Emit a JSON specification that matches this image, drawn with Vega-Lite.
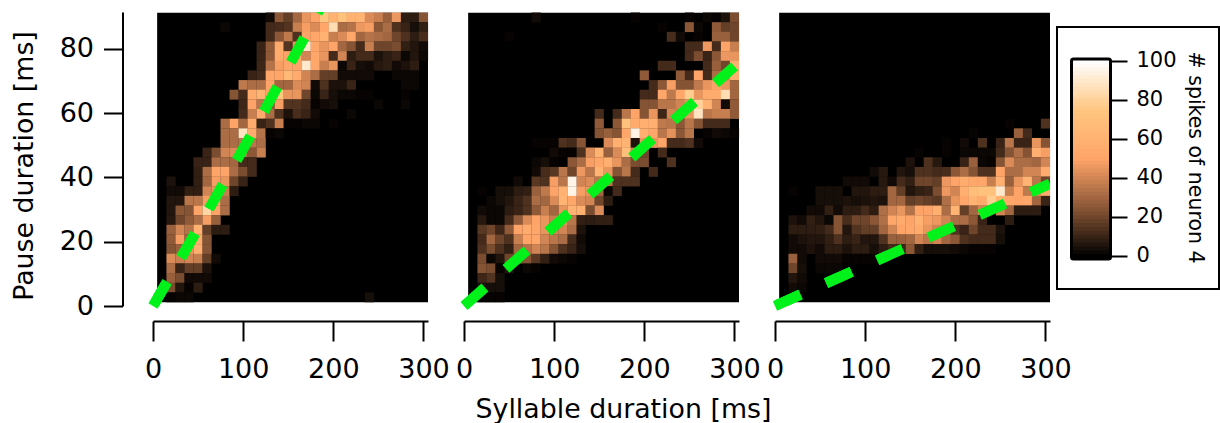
{"$schema":"https://vega.github.io/schema/vega-lite/v6.json","background":"white","padding":{"left":11,"top":12,"right":0,"bottom":0},"config":{"view":{"stroke":null},"font":"DejaVu Sans","axis":{"grid":false,"domainColor":"black","tickColor":"black","labelColor":"black","titleColor":"black","domainWidth":2,"tickWidth":2,"labelFont":"DejaVu Sans","titleFont":"DejaVu Sans","titleFontWeight":"normal","labelOverlap":false,"labelFlush":false}},
"datasets":{
"g1":[{"x":0,"y":0},{"x":45.9,"y":22.2},{"x":107.8,"y":52.7},{"x":167.8,"y":83.4},{"x":190,"y":95}],
"g2":[{"x":0,"y":0},{"x":150,"y":37.2},{"x":300,"y":74.5}],
"g3":[{"x":0,"y":0},{"x":125.9,"y":15.8},{"x":305,"y":38}],
"bar":[{"v":0},{"v":2},{"v":4},{"v":6},{"v":8},{"v":10},{"v":12},{"v":14},{"v":16},{"v":18},{"v":20},{"v":22},{"v":24},{"v":26},{"v":28},{"v":30},{"v":32},{"v":34},{"v":36},{"v":38},{"v":40},{"v":42},{"v":44},{"v":46},{"v":48},{"v":50},{"v":52},{"v":54},{"v":56},{"v":58},{"v":60},{"v":62},{"v":64},{"v":66},{"v":68},{"v":70},{"v":72},{"v":74},{"v":76},{"v":78},{"v":80},{"v":82},{"v":84},{"v":86},{"v":88},{"v":90},{"v":92},{"v":94},{"v":96},{"v":98},{"v":100}],
"p1":[
{"x":130,"y":89.7,"v":3},{"x":140,"y":89.7,"v":25},{"x":150,"y":89.7,"v":18},{"x":160,"y":89.7,"v":30},{"x":170,"y":89.7,"v":45},{"x":180,"y":89.7,"v":50},{"x":190,"y":89.7,"v":75},{"x":200,"y":89.7,"v":60},{"x":210,"y":89.7,"v":72},{"x":220,"y":89.7,"v":60},{"x":230,"y":89.7,"v":62},{"x":240,"y":89.7,"v":42},{"x":250,"y":89.7,"v":38},{"x":260,"y":89.7,"v":28},{"x":270,"y":89.7,"v":46},{"x":280,"y":89.7,"v":8},{"x":290,"y":89.7,"v":8},{"x":300,"y":89.7,"v":24},
{"x":80,"y":86.7,"v":2},{"x":130,"y":86.7,"v":12},{"x":140,"y":86.7,"v":13},{"x":150,"y":86.7,"v":15},{"x":160,"y":86.7,"v":38},{"x":170,"y":86.7,"v":48},{"x":180,"y":86.7,"v":42},{"x":190,"y":86.7,"v":52},{"x":200,"y":86.7,"v":85},{"x":210,"y":86.7,"v":32},{"x":220,"y":86.7,"v":34},{"x":230,"y":86.7,"v":46},{"x":240,"y":86.7,"v":48},{"x":250,"y":86.7,"v":25},{"x":260,"y":86.7,"v":32},{"x":270,"y":86.7,"v":14},{"x":280,"y":86.7,"v":10},{"x":290,"y":86.7,"v":4},{"x":300,"y":86.7,"v":9},
{"x":130,"y":83.7,"v":12},{"x":140,"y":83.7,"v":25},{"x":150,"y":83.7,"v":36},{"x":160,"y":83.7,"v":14},{"x":170,"y":83.7,"v":50},{"x":180,"y":83.7,"v":52},{"x":190,"y":83.7,"v":60},{"x":200,"y":83.7,"v":38},{"x":210,"y":83.7,"v":42},{"x":220,"y":83.7,"v":52},{"x":230,"y":83.7,"v":30},{"x":240,"y":83.7,"v":34},{"x":250,"y":83.7,"v":32},{"x":260,"y":83.7,"v":30},{"x":270,"y":83.7,"v":20},{"x":280,"y":83.7,"v":14},{"x":290,"y":83.7,"v":8},{"x":300,"y":83.7,"v":13},
{"x":120,"y":80.7,"v":10},{"x":130,"y":80.7,"v":26},{"x":140,"y":80.7,"v":55},{"x":150,"y":80.7,"v":15},{"x":160,"y":80.7,"v":45},{"x":170,"y":80.7,"v":90},{"x":180,"y":80.7,"v":52},{"x":190,"y":80.7,"v":45},{"x":200,"y":80.7,"v":50},{"x":210,"y":80.7,"v":30},{"x":220,"y":80.7,"v":24},{"x":230,"y":80.7,"v":12},{"x":240,"y":80.7,"v":38},{"x":250,"y":80.7,"v":20},{"x":260,"y":80.7,"v":20},{"x":270,"y":80.7,"v":22},{"x":280,"y":80.7,"v":9},{"x":290,"y":80.7,"v":6},{"x":300,"y":80.7,"v":3},
{"x":120,"y":77.7,"v":10},{"x":130,"y":77.7,"v":26},{"x":140,"y":77.7,"v":55},{"x":150,"y":77.7,"v":50},{"x":160,"y":77.7,"v":52},{"x":170,"y":77.7,"v":40},{"x":180,"y":77.7,"v":52},{"x":190,"y":77.7,"v":45},{"x":200,"y":77.7,"v":12},{"x":210,"y":77.7,"v":40},{"x":220,"y":77.7,"v":8},{"x":230,"y":77.7,"v":12},{"x":240,"y":77.7,"v":12},{"x":250,"y":77.7,"v":5},{"x":260,"y":77.7,"v":8},{"x":270,"y":77.7,"v":10},{"x":280,"y":77.7,"v":2},{"x":290,"y":77.7,"v":6},{"x":300,"y":77.7,"v":2},
{"x":120,"y":74.7,"v":11},{"x":130,"y":74.7,"v":34},{"x":140,"y":74.7,"v":48},{"x":150,"y":74.7,"v":52},{"x":160,"y":74.7,"v":50},{"x":170,"y":74.7,"v":90},{"x":180,"y":74.7,"v":52},{"x":190,"y":74.7,"v":38},{"x":200,"y":74.7,"v":45},{"x":210,"y":74.7,"v":2},{"x":220,"y":74.7,"v":10},{"x":230,"y":74.7,"v":4},{"x":240,"y":74.7,"v":3},{"x":250,"y":74.7,"v":7},{"x":260,"y":74.7,"v":8},{"x":270,"y":74.7,"v":3},{"x":280,"y":74.7,"v":5},{"x":290,"y":74.7,"v":8},
{"x":110,"y":71.7,"v":10},{"x":120,"y":71.7,"v":12},{"x":130,"y":71.7,"v":52},{"x":140,"y":71.7,"v":52},{"x":150,"y":71.7,"v":65},{"x":160,"y":71.7,"v":55},{"x":170,"y":71.7,"v":40},{"x":180,"y":71.7,"v":32},{"x":190,"y":71.7,"v":18},{"x":200,"y":71.7,"v":18},{"x":210,"y":71.7,"v":3},{"x":220,"y":71.7,"v":3},{"x":230,"y":71.7,"v":3},{"x":240,"y":71.7,"v":3},{"x":270,"y":71.7,"v":2},{"x":280,"y":71.7,"v":2},{"x":290,"y":71.7,"v":2},
{"x":100,"y":68.7,"v":36},{"x":110,"y":68.7,"v":32},{"x":120,"y":68.7,"v":32},{"x":130,"y":68.7,"v":50},{"x":140,"y":68.7,"v":30},{"x":150,"y":68.7,"v":30},{"x":160,"y":68.7,"v":42},{"x":170,"y":68.7,"v":40},{"x":180,"y":68.7,"v":3},{"x":190,"y":68.7,"v":14},{"x":200,"y":68.7,"v":5},{"x":210,"y":68.7,"v":5},{"x":220,"y":68.7,"v":10},{"x":280,"y":68.7,"v":2},{"x":290,"y":68.7,"v":2},
{"x":90,"y":65.7,"v":24},{"x":100,"y":65.7,"v":12},{"x":110,"y":65.7,"v":55},{"x":120,"y":65.7,"v":62},{"x":130,"y":65.7,"v":50},{"x":140,"y":65.7,"v":75},{"x":150,"y":65.7,"v":45},{"x":160,"y":65.7,"v":45},{"x":170,"y":65.7,"v":20},{"x":180,"y":65.7,"v":2},{"x":190,"y":65.7,"v":10},{"x":200,"y":65.7,"v":4},{"x":210,"y":65.7,"v":2},{"x":220,"y":65.7,"v":2},{"x":230,"y":65.7,"v":1},{"x":240,"y":65.7,"v":1},{"x":280,"y":65.7,"v":1},
{"x":100,"y":62.7,"v":11},{"x":110,"y":62.7,"v":50},{"x":120,"y":62.7,"v":35},{"x":130,"y":62.7,"v":25},{"x":140,"y":62.7,"v":48},{"x":150,"y":62.7,"v":15},{"x":160,"y":62.7,"v":15},{"x":170,"y":62.7,"v":12},{"x":180,"y":62.7,"v":1},{"x":190,"y":62.7,"v":3},{"x":200,"y":62.7,"v":4},{"x":250,"y":62.7,"v":2},{"x":280,"y":62.7,"v":2},
{"x":100,"y":59.7,"v":12},{"x":110,"y":59.7,"v":38},{"x":120,"y":59.7,"v":55},{"x":130,"y":59.7,"v":32},{"x":140,"y":59.7,"v":14},{"x":150,"y":59.7,"v":5},{"x":160,"y":59.7,"v":13},{"x":170,"y":59.7,"v":10},{"x":180,"y":59.7,"v":3},{"x":220,"y":59.7,"v":2},
{"x":80,"y":56.7,"v":32},{"x":90,"y":56.7,"v":50},{"x":100,"y":56.7,"v":30},{"x":110,"y":56.7,"v":55},{"x":120,"y":56.7,"v":10},{"x":130,"y":56.7,"v":14},{"x":140,"y":56.7,"v":38},{"x":150,"y":56.7,"v":1},{"x":160,"y":56.7,"v":1},{"x":170,"y":56.7,"v":2},{"x":180,"y":56.7,"v":2},{"x":200,"y":56.7,"v":1},
{"x":80,"y":53.7,"v":32},{"x":90,"y":53.7,"v":32},{"x":100,"y":53.7,"v":88},{"x":110,"y":53.7,"v":55},{"x":120,"y":53.7,"v":34},{"x":130,"y":53.7,"v":1},{"x":140,"y":53.7,"v":2},
{"x":80,"y":50.7,"v":32},{"x":90,"y":50.7,"v":32},{"x":100,"y":50.7,"v":35},{"x":110,"y":50.7,"v":35},{"x":120,"y":50.7,"v":32},
{"x":60,"y":47.7,"v":10},{"x":70,"y":47.7,"v":22},{"x":80,"y":47.7,"v":40},{"x":90,"y":47.7,"v":42},{"x":100,"y":47.7,"v":35},{"x":110,"y":47.7,"v":25},{"x":120,"y":47.7,"v":38},
{"x":50,"y":44.7,"v":10},{"x":60,"y":44.7,"v":10},{"x":70,"y":44.7,"v":32},{"x":80,"y":44.7,"v":32},{"x":90,"y":44.7,"v":30},{"x":100,"y":44.7,"v":12},{"x":110,"y":44.7,"v":12},
{"x":50,"y":41.7,"v":9},{"x":60,"y":41.7,"v":32},{"x":70,"y":41.7,"v":50},{"x":80,"y":41.7,"v":50},{"x":90,"y":41.7,"v":32},{"x":100,"y":41.7,"v":22},{"x":110,"y":41.7,"v":12},
{"x":20,"y":38.7,"v":5},{"x":50,"y":38.7,"v":9},{"x":60,"y":38.7,"v":30},{"x":70,"y":38.7,"v":48},{"x":80,"y":38.7,"v":45},{"x":90,"y":38.7,"v":20},{"x":100,"y":38.7,"v":10},
{"x":20,"y":35.7,"v":3},{"x":30,"y":35.7,"v":3},{"x":40,"y":35.7,"v":9},{"x":50,"y":35.7,"v":9},{"x":60,"y":35.7,"v":40},{"x":70,"y":35.7,"v":45},{"x":80,"y":35.7,"v":38},{"x":90,"y":35.7,"v":8},
{"x":20,"y":32.7,"v":6},{"x":30,"y":32.7,"v":6},{"x":40,"y":32.7,"v":35},{"x":50,"y":32.7,"v":35},{"x":60,"y":32.7,"v":48},{"x":70,"y":32.7,"v":52},{"x":80,"y":32.7,"v":32},
{"x":20,"y":29.7,"v":6},{"x":30,"y":29.7,"v":25},{"x":40,"y":29.7,"v":24},{"x":50,"y":29.7,"v":50},{"x":60,"y":29.7,"v":82},{"x":70,"y":29.7,"v":50},{"x":80,"y":29.7,"v":32},
{"x":20,"y":26.7,"v":7},{"x":30,"y":26.7,"v":20},{"x":40,"y":26.7,"v":26},{"x":50,"y":26.7,"v":32},{"x":60,"y":26.7,"v":48},{"x":70,"y":26.7,"v":28},
{"x":20,"y":23.7,"v":28},{"x":30,"y":23.7,"v":40},{"x":40,"y":23.7,"v":34},{"x":50,"y":23.7,"v":60},{"x":60,"y":23.7,"v":18},{"x":70,"y":23.7,"v":8},{"x":80,"y":23.7,"v":8},
{"x":20,"y":20.7,"v":26},{"x":30,"y":20.7,"v":48},{"x":40,"y":20.7,"v":30},{"x":50,"y":20.7,"v":55},{"x":60,"y":20.7,"v":24},
{"x":20,"y":17.7,"v":24},{"x":30,"y":17.7,"v":28},{"x":40,"y":17.7,"v":45},{"x":50,"y":17.7,"v":58},{"x":60,"y":17.7,"v":24},
{"x":20,"y":14.7,"v":42},{"x":30,"y":14.7,"v":38},{"x":40,"y":14.7,"v":40},{"x":50,"y":14.7,"v":38},{"x":60,"y":14.7,"v":18},{"x":70,"y":14.7,"v":3},
{"x":20,"y":11.7,"v":32},{"x":30,"y":11.7,"v":10},{"x":40,"y":11.7,"v":18},{"x":50,"y":11.7,"v":18},{"x":60,"y":11.7,"v":5},
{"x":20,"y":8.7,"v":28},{"x":30,"y":8.7,"v":22},{"x":40,"y":8.7,"v":3},{"x":50,"y":8.7,"v":3},{"x":60,"y":8.7,"v":3},
{"x":20,"y":5.7,"v":22},{"x":30,"y":5.7,"v":6},{"x":40,"y":5.7,"v":1},{"x":50,"y":5.7,"v":8},
{"x":20,"y":2.7,"v":1},{"x":30,"y":2.7,"v":2},{"x":40,"y":2.7,"v":2},{"x":240,"y":2.7,"v":4}],
"p2":[
{"x":80,"y":89.7,"v":3},{"x":190,"y":89.7,"v":1},{"x":250,"y":89.7,"v":1},{"x":270,"y":89.7,"v":2},{"x":280,"y":89.7,"v":1},{"x":290,"y":89.7,"v":5},{"x":300,"y":89.7,"v":22},
{"x":220,"y":86.7,"v":1},{"x":250,"y":86.7,"v":25},{"x":260,"y":86.7,"v":2},{"x":280,"y":86.7,"v":26},{"x":290,"y":86.7,"v":18},{"x":300,"y":86.7,"v":20},
{"x":50,"y":83.7,"v":1},{"x":230,"y":83.7,"v":13},{"x":240,"y":83.7,"v":3},{"x":260,"y":83.7,"v":1},{"x":280,"y":83.7,"v":28},{"x":290,"y":83.7,"v":28},{"x":300,"y":83.7,"v":20},
{"x":250,"y":80.7,"v":12},{"x":260,"y":80.7,"v":12},{"x":270,"y":80.7,"v":46},{"x":280,"y":80.7,"v":12},{"x":290,"y":80.7,"v":50},{"x":300,"y":80.7,"v":38},
{"x":250,"y":77.7,"v":12},{"x":260,"y":77.7,"v":22},{"x":270,"y":77.7,"v":10},{"x":280,"y":77.7,"v":25},{"x":290,"y":77.7,"v":46},{"x":300,"y":77.7,"v":45},
{"x":220,"y":74.7,"v":12},{"x":230,"y":74.7,"v":12},{"x":270,"y":74.7,"v":12},{"x":280,"y":74.7,"v":28},{"x":290,"y":74.7,"v":20},{"x":300,"y":74.7,"v":58},
{"x":200,"y":71.7,"v":26},{"x":240,"y":71.7,"v":26},{"x":250,"y":71.7,"v":12},{"x":260,"y":71.7,"v":50},{"x":270,"y":71.7,"v":12},{"x":280,"y":71.7,"v":32},{"x":290,"y":71.7,"v":40},{"x":300,"y":71.7,"v":58},
{"x":210,"y":68.7,"v":12},{"x":220,"y":68.7,"v":25},{"x":230,"y":68.7,"v":48},{"x":240,"y":68.7,"v":24},{"x":250,"y":68.7,"v":24},{"x":260,"y":68.7,"v":36},{"x":270,"y":68.7,"v":45},{"x":280,"y":68.7,"v":50},{"x":290,"y":68.7,"v":45},{"x":300,"y":68.7,"v":30},
{"x":200,"y":65.7,"v":12},{"x":210,"y":65.7,"v":12},{"x":220,"y":65.7,"v":52},{"x":230,"y":65.7,"v":36},{"x":240,"y":65.7,"v":52},{"x":250,"y":65.7,"v":78},{"x":260,"y":65.7,"v":45},{"x":270,"y":65.7,"v":55},{"x":280,"y":65.7,"v":55},{"x":290,"y":65.7,"v":85},{"x":300,"y":65.7,"v":30},
{"x":200,"y":62.7,"v":24},{"x":210,"y":62.7,"v":24},{"x":220,"y":62.7,"v":35},{"x":230,"y":62.7,"v":35},{"x":240,"y":62.7,"v":40},{"x":250,"y":62.7,"v":45},{"x":260,"y":62.7,"v":80},{"x":270,"y":62.7,"v":60},{"x":280,"y":62.7,"v":40},{"x":290,"y":62.7,"v":3},{"x":300,"y":62.7,"v":26},
{"x":150,"y":59.7,"v":12},{"x":170,"y":59.7,"v":12},{"x":180,"y":59.7,"v":35},{"x":190,"y":59.7,"v":50},{"x":200,"y":59.7,"v":24},{"x":210,"y":59.7,"v":45},{"x":220,"y":59.7,"v":11},{"x":230,"y":59.7,"v":40},{"x":240,"y":59.7,"v":35},{"x":250,"y":59.7,"v":45},{"x":260,"y":59.7,"v":88},{"x":270,"y":59.7,"v":35},{"x":280,"y":59.7,"v":38},{"x":290,"y":59.7,"v":38},{"x":300,"y":59.7,"v":26},
{"x":150,"y":56.7,"v":26},{"x":170,"y":56.7,"v":25},{"x":180,"y":56.7,"v":72},{"x":190,"y":56.7,"v":55},{"x":200,"y":56.7,"v":58},{"x":210,"y":56.7,"v":58},{"x":220,"y":56.7,"v":36},{"x":230,"y":56.7,"v":35},{"x":240,"y":56.7,"v":25},{"x":250,"y":56.7,"v":35},{"x":260,"y":56.7,"v":24},{"x":270,"y":56.7,"v":12},{"x":280,"y":56.7,"v":12},{"x":290,"y":56.7,"v":12},
{"x":150,"y":53.7,"v":24},{"x":160,"y":53.7,"v":28},{"x":170,"y":53.7,"v":24},{"x":180,"y":53.7,"v":52},{"x":190,"y":53.7,"v":95},{"x":200,"y":53.7,"v":58},{"x":210,"y":53.7,"v":52},{"x":220,"y":53.7,"v":35},{"x":230,"y":53.7,"v":44},{"x":240,"y":53.7,"v":25},{"x":250,"y":53.7,"v":35},{"x":270,"y":53.7,"v":1},{"x":280,"y":53.7,"v":3},{"x":290,"y":53.7,"v":2},{"x":300,"y":53.7,"v":1},
{"x":80,"y":50.7,"v":1},{"x":90,"y":50.7,"v":1},{"x":100,"y":50.7,"v":1},{"x":110,"y":50.7,"v":14},{"x":120,"y":50.7,"v":12},{"x":130,"y":50.7,"v":24},{"x":160,"y":50.7,"v":42},{"x":170,"y":50.7,"v":58},{"x":180,"y":50.7,"v":62},{"x":190,"y":50.7,"v":5},{"x":200,"y":50.7,"v":45},{"x":210,"y":50.7,"v":45},{"x":220,"y":50.7,"v":50},{"x":230,"y":50.7,"v":12},{"x":240,"y":50.7,"v":12},{"x":250,"y":50.7,"v":14},{"x":260,"y":50.7,"v":3},
{"x":100,"y":47.7,"v":3},{"x":110,"y":47.7,"v":1},{"x":120,"y":47.7,"v":1},{"x":130,"y":47.7,"v":14},{"x":140,"y":47.7,"v":42},{"x":150,"y":47.7,"v":60},{"x":160,"y":47.7,"v":28},{"x":170,"y":47.7,"v":42},{"x":180,"y":47.7,"v":70},{"x":190,"y":47.7,"v":40},{"x":200,"y":47.7,"v":20},{"x":220,"y":47.7,"v":12},
{"x":80,"y":44.7,"v":2},{"x":90,"y":44.7,"v":4},{"x":100,"y":44.7,"v":1},{"x":120,"y":44.7,"v":25},{"x":130,"y":44.7,"v":32},{"x":140,"y":44.7,"v":48},{"x":150,"y":44.7,"v":52},{"x":160,"y":44.7,"v":58},{"x":170,"y":44.7,"v":45},{"x":180,"y":44.7,"v":32},{"x":190,"y":44.7,"v":22},{"x":200,"y":44.7,"v":22},{"x":230,"y":44.7,"v":14},
{"x":80,"y":41.7,"v":3},{"x":90,"y":41.7,"v":13},{"x":100,"y":41.7,"v":16},{"x":110,"y":41.7,"v":35},{"x":120,"y":41.7,"v":20},{"x":130,"y":41.7,"v":46},{"x":140,"y":41.7,"v":35},{"x":150,"y":41.7,"v":62},{"x":160,"y":41.7,"v":45},{"x":170,"y":41.7,"v":24},{"x":180,"y":41.7,"v":35},{"x":190,"y":41.7,"v":12},{"x":210,"y":41.7,"v":12},
{"x":60,"y":38.7,"v":3},{"x":80,"y":38.7,"v":16},{"x":90,"y":38.7,"v":14},{"x":100,"y":38.7,"v":48},{"x":110,"y":38.7,"v":35},{"x":120,"y":38.7,"v":95},{"x":130,"y":38.7,"v":40},{"x":140,"y":38.7,"v":42},{"x":150,"y":38.7,"v":35},{"x":160,"y":38.7,"v":35},{"x":170,"y":38.7,"v":14},{"x":180,"y":38.7,"v":14},{"x":190,"y":38.7,"v":14},
{"x":20,"y":35.7,"v":1},{"x":40,"y":35.7,"v":4},{"x":50,"y":35.7,"v":4},{"x":60,"y":35.7,"v":8},{"x":70,"y":35.7,"v":9},{"x":80,"y":35.7,"v":28},{"x":90,"y":35.7,"v":36},{"x":100,"y":35.7,"v":50},{"x":110,"y":35.7,"v":60},{"x":120,"y":35.7,"v":95},{"x":130,"y":35.7,"v":48},{"x":140,"y":35.7,"v":45},{"x":150,"y":35.7,"v":30},{"x":160,"y":35.7,"v":2},{"x":170,"y":35.7,"v":12},
{"x":30,"y":32.7,"v":2},{"x":40,"y":32.7,"v":4},{"x":50,"y":32.7,"v":6},{"x":60,"y":32.7,"v":10},{"x":70,"y":32.7,"v":14},{"x":80,"y":32.7,"v":32},{"x":90,"y":32.7,"v":30},{"x":100,"y":32.7,"v":42},{"x":110,"y":32.7,"v":62},{"x":120,"y":32.7,"v":52},{"x":130,"y":32.7,"v":42},{"x":140,"y":32.7,"v":40},{"x":150,"y":32.7,"v":20},{"x":160,"y":32.7,"v":8},
{"x":20,"y":29.7,"v":3},{"x":30,"y":29.7,"v":2},{"x":40,"y":29.7,"v":2},{"x":50,"y":29.7,"v":8},{"x":60,"y":29.7,"v":10},{"x":70,"y":29.7,"v":14},{"x":80,"y":29.7,"v":26},{"x":90,"y":29.7,"v":38},{"x":100,"y":29.7,"v":30},{"x":110,"y":29.7,"v":45},{"x":120,"y":29.7,"v":60},{"x":130,"y":29.7,"v":58},{"x":140,"y":29.7,"v":22},{"x":150,"y":29.7,"v":42},
{"x":20,"y":26.7,"v":7},{"x":30,"y":26.7,"v":2},{"x":40,"y":26.7,"v":2},{"x":50,"y":26.7,"v":12},{"x":60,"y":26.7,"v":26},{"x":70,"y":26.7,"v":42},{"x":80,"y":26.7,"v":50},{"x":90,"y":26.7,"v":45},{"x":100,"y":26.7,"v":38},{"x":110,"y":26.7,"v":45},{"x":120,"y":26.7,"v":35},{"x":130,"y":26.7,"v":9},{"x":140,"y":26.7,"v":8},{"x":150,"y":26.7,"v":9},{"x":160,"y":26.7,"v":9},
{"x":20,"y":23.7,"v":16},{"x":30,"y":23.7,"v":20},{"x":40,"y":23.7,"v":11},{"x":50,"y":23.7,"v":26},{"x":60,"y":23.7,"v":50},{"x":70,"y":23.7,"v":55},{"x":80,"y":23.7,"v":52},{"x":90,"y":23.7,"v":45},{"x":100,"y":23.7,"v":40},{"x":110,"y":23.7,"v":40},{"x":120,"y":23.7,"v":32},{"x":130,"y":23.7,"v":5},
{"x":20,"y":20.7,"v":12},{"x":30,"y":20.7,"v":30},{"x":40,"y":20.7,"v":20},{"x":50,"y":20.7,"v":14},{"x":60,"y":20.7,"v":38},{"x":70,"y":20.7,"v":50},{"x":80,"y":20.7,"v":52},{"x":90,"y":20.7,"v":40},{"x":100,"y":20.7,"v":35},{"x":110,"y":20.7,"v":32},{"x":120,"y":20.7,"v":12},{"x":130,"y":20.7,"v":3},
{"x":20,"y":17.7,"v":14},{"x":30,"y":17.7,"v":22},{"x":40,"y":17.7,"v":14},{"x":50,"y":17.7,"v":9},{"x":60,"y":17.7,"v":30},{"x":70,"y":17.7,"v":34},{"x":80,"y":17.7,"v":40},{"x":90,"y":17.7,"v":35},{"x":100,"y":17.7,"v":24},{"x":110,"y":17.7,"v":14},{"x":120,"y":17.7,"v":10},{"x":130,"y":17.7,"v":4},
{"x":20,"y":14.7,"v":22},{"x":30,"y":14.7,"v":2},{"x":40,"y":14.7,"v":6},{"x":50,"y":14.7,"v":20},{"x":60,"y":14.7,"v":24},{"x":70,"y":14.7,"v":24},{"x":80,"y":14.7,"v":16},{"x":90,"y":14.7,"v":9},{"x":100,"y":14.7,"v":3},{"x":110,"y":14.7,"v":2},{"x":120,"y":14.7,"v":1},
{"x":20,"y":11.7,"v":24},{"x":30,"y":11.7,"v":22},{"x":40,"y":11.7,"v":1},{"x":50,"y":11.7,"v":6},{"x":70,"y":11.7,"v":2},{"x":80,"y":11.7,"v":1},
{"x":20,"y":8.7,"v":11},{"x":30,"y":8.7,"v":15},{"x":40,"y":8.7,"v":4},
{"x":20,"y":5.7,"v":5},{"x":30,"y":5.7,"v":4},{"x":40,"y":5.7,"v":4},
{"x":20,"y":2.7,"v":1},{"x":30,"y":2.7,"v":1},{"x":40,"y":2.7,"v":1}],
"p3":[
{"x":260,"y":56.7,"v":1},{"x":300,"y":56.7,"v":14},
{"x":220,"y":53.7,"v":1},{"x":270,"y":53.7,"v":28},{"x":280,"y":53.7,"v":12},
{"x":190,"y":50.7,"v":1},{"x":210,"y":50.7,"v":3},{"x":230,"y":50.7,"v":14},{"x":250,"y":50.7,"v":10},{"x":260,"y":50.7,"v":35},{"x":270,"y":50.7,"v":10},{"x":280,"y":50.7,"v":10},{"x":290,"y":50.7,"v":45},{"x":300,"y":50.7,"v":24},
{"x":160,"y":47.7,"v":1},{"x":190,"y":47.7,"v":1},{"x":210,"y":47.7,"v":2},{"x":220,"y":47.7,"v":2},{"x":230,"y":47.7,"v":2},{"x":240,"y":47.7,"v":2},{"x":250,"y":47.7,"v":12},{"x":260,"y":47.7,"v":24},{"x":270,"y":47.7,"v":33},{"x":280,"y":47.7,"v":24},{"x":290,"y":47.7,"v":58},{"x":300,"y":47.7,"v":48},
{"x":150,"y":44.7,"v":5},{"x":170,"y":44.7,"v":14},{"x":180,"y":44.7,"v":7},{"x":210,"y":44.7,"v":10},{"x":220,"y":44.7,"v":28},{"x":230,"y":44.7,"v":2},{"x":240,"y":44.7,"v":1},{"x":250,"y":44.7,"v":24},{"x":260,"y":44.7,"v":42},{"x":270,"y":44.7,"v":32},{"x":280,"y":44.7,"v":32},{"x":290,"y":44.7,"v":30},{"x":300,"y":44.7,"v":40},
{"x":110,"y":41.7,"v":3},{"x":120,"y":41.7,"v":7},{"x":140,"y":41.7,"v":6},{"x":150,"y":41.7,"v":4},{"x":160,"y":41.7,"v":14},{"x":170,"y":41.7,"v":14},{"x":180,"y":41.7,"v":12},{"x":190,"y":41.7,"v":13},{"x":200,"y":41.7,"v":25},{"x":210,"y":41.7,"v":32},{"x":220,"y":41.7,"v":24},{"x":230,"y":41.7,"v":14},{"x":240,"y":41.7,"v":14},{"x":250,"y":41.7,"v":50},{"x":260,"y":41.7,"v":32},{"x":270,"y":41.7,"v":32},{"x":280,"y":41.7,"v":40},{"x":290,"y":41.7,"v":40},{"x":300,"y":41.7,"v":55},
{"x":80,"y":38.7,"v":3},{"x":90,"y":38.7,"v":3},{"x":100,"y":38.7,"v":3},{"x":120,"y":38.7,"v":7},{"x":130,"y":38.7,"v":3},{"x":140,"y":38.7,"v":12},{"x":150,"y":38.7,"v":9},{"x":160,"y":38.7,"v":20},{"x":170,"y":38.7,"v":20},{"x":180,"y":38.7,"v":18},{"x":190,"y":38.7,"v":46},{"x":200,"y":38.7,"v":50},{"x":210,"y":38.7,"v":56},{"x":220,"y":38.7,"v":52},{"x":230,"y":38.7,"v":52},{"x":240,"y":38.7,"v":38},{"x":250,"y":38.7,"v":58},{"x":260,"y":38.7,"v":28},{"x":270,"y":38.7,"v":45},{"x":280,"y":38.7,"v":62},{"x":290,"y":38.7,"v":35},{"x":300,"y":38.7,"v":20},
{"x":20,"y":35.7,"v":1},{"x":50,"y":35.7,"v":4},{"x":60,"y":35.7,"v":4},{"x":70,"y":35.7,"v":4},{"x":90,"y":35.7,"v":6},{"x":100,"y":35.7,"v":6},{"x":110,"y":35.7,"v":8},{"x":120,"y":35.7,"v":8},{"x":130,"y":35.7,"v":30},{"x":140,"y":35.7,"v":18},{"x":150,"y":35.7,"v":6},{"x":160,"y":35.7,"v":9},{"x":170,"y":35.7,"v":10},{"x":180,"y":35.7,"v":22},{"x":190,"y":35.7,"v":46},{"x":200,"y":35.7,"v":40},{"x":210,"y":35.7,"v":58},{"x":220,"y":35.7,"v":70},{"x":230,"y":35.7,"v":72},{"x":240,"y":35.7,"v":72},{"x":250,"y":35.7,"v":90},{"x":260,"y":35.7,"v":38},{"x":270,"y":35.7,"v":50},{"x":280,"y":35.7,"v":36},{"x":290,"y":35.7,"v":42},{"x":300,"y":35.7,"v":55},
{"x":50,"y":32.7,"v":4},{"x":60,"y":32.7,"v":4},{"x":70,"y":32.7,"v":4},{"x":80,"y":32.7,"v":5},{"x":90,"y":32.7,"v":4},{"x":100,"y":32.7,"v":5},{"x":110,"y":32.7,"v":6},{"x":120,"y":32.7,"v":5},{"x":130,"y":32.7,"v":30},{"x":140,"y":32.7,"v":30},{"x":150,"y":32.7,"v":18},{"x":160,"y":32.7,"v":20},{"x":170,"y":32.7,"v":18},{"x":180,"y":32.7,"v":16},{"x":190,"y":32.7,"v":33},{"x":200,"y":32.7,"v":45},{"x":210,"y":32.7,"v":52},{"x":220,"y":32.7,"v":62},{"x":230,"y":32.7,"v":55},{"x":240,"y":32.7,"v":78},{"x":250,"y":32.7,"v":60},{"x":260,"y":32.7,"v":52},{"x":270,"y":32.7,"v":50},{"x":280,"y":32.7,"v":52},{"x":290,"y":32.7,"v":30},{"x":300,"y":32.7,"v":10},
{"x":40,"y":29.7,"v":3},{"x":50,"y":29.7,"v":3},{"x":60,"y":29.7,"v":9},{"x":70,"y":29.7,"v":3},{"x":80,"y":29.7,"v":8},{"x":90,"y":29.7,"v":8},{"x":100,"y":29.7,"v":12},{"x":110,"y":29.7,"v":8},{"x":120,"y":29.7,"v":33},{"x":130,"y":29.7,"v":40},{"x":140,"y":29.7,"v":45},{"x":150,"y":29.7,"v":34},{"x":160,"y":29.7,"v":50},{"x":170,"y":29.7,"v":50},{"x":180,"y":29.7,"v":58},{"x":190,"y":29.7,"v":32},{"x":200,"y":29.7,"v":62},{"x":210,"y":29.7,"v":18},{"x":220,"y":29.7,"v":30},{"x":230,"y":29.7,"v":40},{"x":250,"y":29.7,"v":40},{"x":260,"y":29.7,"v":30},{"x":270,"y":29.7,"v":8},{"x":280,"y":29.7,"v":8},{"x":290,"y":29.7,"v":8},
{"x":20,"y":26.7,"v":5},{"x":30,"y":26.7,"v":3},{"x":40,"y":26.7,"v":9},{"x":50,"y":26.7,"v":6},{"x":60,"y":26.7,"v":2},{"x":70,"y":26.7,"v":24},{"x":80,"y":26.7,"v":13},{"x":90,"y":26.7,"v":20},{"x":100,"y":26.7,"v":20},{"x":110,"y":26.7,"v":25},{"x":120,"y":26.7,"v":33},{"x":130,"y":26.7,"v":52},{"x":140,"y":26.7,"v":55},{"x":150,"y":26.7,"v":50},{"x":160,"y":26.7,"v":60},{"x":170,"y":26.7,"v":48},{"x":180,"y":26.7,"v":46},{"x":190,"y":26.7,"v":40},{"x":200,"y":26.7,"v":32},{"x":210,"y":26.7,"v":32},{"x":220,"y":26.7,"v":25},{"x":230,"y":26.7,"v":10},{"x":260,"y":26.7,"v":8},
{"x":20,"y":23.7,"v":8},{"x":30,"y":23.7,"v":8},{"x":40,"y":23.7,"v":8},{"x":50,"y":23.7,"v":9},{"x":60,"y":23.7,"v":12},{"x":70,"y":23.7,"v":24},{"x":80,"y":23.7,"v":6},{"x":90,"y":23.7,"v":15},{"x":100,"y":23.7,"v":18},{"x":110,"y":23.7,"v":18},{"x":120,"y":23.7,"v":30},{"x":130,"y":23.7,"v":40},{"x":140,"y":23.7,"v":50},{"x":150,"y":23.7,"v":52},{"x":160,"y":23.7,"v":55},{"x":170,"y":23.7,"v":45},{"x":180,"y":23.7,"v":40},{"x":190,"y":23.7,"v":35},{"x":200,"y":23.7,"v":14},{"x":210,"y":23.7,"v":10},{"x":220,"y":23.7,"v":20},{"x":230,"y":23.7,"v":12},{"x":240,"y":23.7,"v":12},{"x":250,"y":23.7,"v":5},
{"x":20,"y":20.7,"v":3},{"x":30,"y":20.7,"v":5},{"x":40,"y":20.7,"v":6},{"x":50,"y":20.7,"v":6},{"x":60,"y":20.7,"v":9},{"x":70,"y":20.7,"v":14},{"x":80,"y":20.7,"v":8},{"x":90,"y":20.7,"v":10},{"x":100,"y":20.7,"v":6},{"x":110,"y":20.7,"v":6},{"x":120,"y":20.7,"v":14},{"x":130,"y":20.7,"v":28},{"x":140,"y":20.7,"v":28},{"x":150,"y":20.7,"v":30},{"x":160,"y":20.7,"v":40},{"x":170,"y":20.7,"v":35},{"x":180,"y":20.7,"v":40},{"x":190,"y":20.7,"v":30},{"x":200,"y":20.7,"v":25},{"x":210,"y":20.7,"v":14},{"x":220,"y":20.7,"v":12},{"x":230,"y":20.7,"v":12},{"x":240,"y":20.7,"v":12},{"x":250,"y":20.7,"v":4},
{"x":20,"y":17.7,"v":3},{"x":30,"y":17.7,"v":3},{"x":40,"y":17.7,"v":5},{"x":50,"y":17.7,"v":3},{"x":60,"y":17.7,"v":8},{"x":70,"y":17.7,"v":8},{"x":80,"y":17.7,"v":5},{"x":90,"y":17.7,"v":8},{"x":100,"y":17.7,"v":8},{"x":110,"y":17.7,"v":4},{"x":120,"y":17.7,"v":8},{"x":130,"y":17.7,"v":12},{"x":140,"y":17.7,"v":10},{"x":150,"y":17.7,"v":25},{"x":160,"y":17.7,"v":9},{"x":170,"y":17.7,"v":4},{"x":180,"y":17.7,"v":4},{"x":190,"y":17.7,"v":4},{"x":200,"y":17.7,"v":3},{"x":210,"y":17.7,"v":2},{"x":220,"y":17.7,"v":1},{"x":230,"y":17.7,"v":1},{"x":240,"y":17.7,"v":1},
{"x":20,"y":14.7,"v":28},{"x":30,"y":14.7,"v":3},{"x":50,"y":14.7,"v":3},{"x":60,"y":14.7,"v":3},{"x":70,"y":14.7,"v":3},{"x":80,"y":14.7,"v":1},{"x":90,"y":14.7,"v":1},{"x":100,"y":14.7,"v":1},{"x":110,"y":14.7,"v":1},
{"x":20,"y":11.7,"v":20},{"x":30,"y":11.7,"v":4},{"x":50,"y":11.7,"v":2},{"x":60,"y":11.7,"v":2},{"x":70,"y":11.7,"v":2},
{"x":20,"y":8.7,"v":6},{"x":30,"y":8.7,"v":3},
{"x":20,"y":5.7,"v":3},{"x":30,"y":5.7,"v":2}]
},
"spacing":36,"bounds":"flush",
"hconcat":[
{"width":275,"height":294,"layer":[
{"data":{"values":[{"k":"image"}]},"mark":{"type":"rect","color":"black"},"encoding":{"x":{"datum":4.6,"type":"quantitative","scale":{"domain":[0,305],"nice":false},"axis":{"values":[0,100,200,300],"tickSize":20,"offset":15,"labelFontSize":27,"labelPadding":15,"title":null}},"x2":{"datum":305},"y":{"datum":1.2,"type":"quantitative","scale":{"domain":[0,91.4],"nice":false},"axis":{"values":[0,20,40,60,80],"tickSize":19,"offset":30.5,"labelFontSize":27,"labelPadding":10,"title":"Pause duration [ms]","titleFontSize":26.8,"titlePadding":21,"titleY":153.5}},"y2":{"datum":91.2}}},
{"data":{"name":"p1"},"mark":{"type":"rect","width":9.2,"height":9.9},"encoding":{"x":{"field":"x","type":"quantitative","scale":{"domain":[0,305],"nice":false}},"y":{"field":"y","type":"quantitative","scale":{"domain":[0,91.4],"nice":false}},"color":{"field":"v","type":"quantitative","legend":null,"scale":{"domain":[0,100],"range":["#000000","#8b5737","#ffa468","#ffc680","#ffffff"],"interpolate":"rgb"}}}},
{"data":{"name":"g1"},"mark":{"type":"line","clip":true,"color":"#00f21a","strokeWidth":10.5,"strokeDash":[28,28]},"encoding":{"x":{"field":"x","type":"quantitative","scale":{"domain":[0,305],"nice":false}},"y":{"field":"y","type":"quantitative","scale":{"domain":[0,91.4],"nice":false}}}},
{"data":{"name":"g1"},"transform":[{"filter":"datum.x<50"}],"mark":{"type":"line","color":"#00f21a","strokeWidth":10.5,"strokeDash":[28,28]},"encoding":{"x":{"field":"x","type":"quantitative","scale":{"domain":[0,305],"nice":false}},"y":{"field":"y","type":"quantitative","scale":{"domain":[0,91.4],"nice":false}}}}
]},
{"width":275,"height":294,"layer":[
{"data":{"values":[{"k":"image"}]},"mark":{"type":"rect","color":"black"},"encoding":{"x":{"datum":4.6,"type":"quantitative","scale":{"domain":[0,305],"nice":false},"axis":{"values":[0,100,200,300],"tickSize":20,"offset":15,"labelFontSize":27,"labelPadding":15,"title":"Syllable duration [ms]","titleFontSize":26.8,"titlePadding":14,"titleX":159}},"x2":{"datum":305},"y":{"datum":1.2,"type":"quantitative","scale":{"domain":[0,91.4],"nice":false},"axis":null},"y2":{"datum":91.2}}},
{"data":{"name":"p2"},"mark":{"type":"rect","width":9.2,"height":9.9},"encoding":{"x":{"field":"x","type":"quantitative","scale":{"domain":[0,305],"nice":false}},"y":{"field":"y","type":"quantitative","scale":{"domain":[0,91.4],"nice":false}},"color":{"field":"v","type":"quantitative","legend":null,"scale":{"domain":[0,100],"range":["#000000","#8b5737","#ffa468","#ffc680","#ffffff"],"interpolate":"rgb"}}}},
{"data":{"name":"g2"},"mark":{"type":"line","clip":false,"color":"#00f21a","strokeWidth":10.5,"strokeDash":[28,28]},"encoding":{"x":{"field":"x","type":"quantitative","scale":{"domain":[0,305],"nice":false}},"y":{"field":"y","type":"quantitative","scale":{"domain":[0,91.4],"nice":false}}}}
]},
{"width":275,"height":294,"layer":[
{"data":{"values":[{"k":"image"}]},"mark":{"type":"rect","color":"black"},"encoding":{"x":{"datum":4.6,"type":"quantitative","scale":{"domain":[0,305],"nice":false},"axis":{"values":[0,100,200,300],"tickSize":20,"offset":15,"labelFontSize":27,"labelPadding":15,"title":null}},"x2":{"datum":305},"y":{"datum":1.2,"type":"quantitative","scale":{"domain":[0,91.4],"nice":false},"axis":null},"y2":{"datum":91.2}}},
{"data":{"name":"p3"},"mark":{"type":"rect","width":9.2,"height":9.9},"encoding":{"x":{"field":"x","type":"quantitative","scale":{"domain":[0,305],"nice":false}},"y":{"field":"y","type":"quantitative","scale":{"domain":[0,91.4],"nice":false}},"color":{"field":"v","type":"quantitative","legend":null,"scale":{"domain":[0,100],"range":["#000000","#8b5737","#ffa468","#ffc680","#ffffff"],"interpolate":"rgb"}}}},
{"data":{"name":"g3"},"mark":{"type":"line","clip":true,"color":"#00f21a","strokeWidth":10.5,"strokeDash":[28,28]},"encoding":{"x":{"field":"x","type":"quantitative","scale":{"domain":[0,305],"nice":false}},"y":{"field":"y","type":"quantitative","scale":{"domain":[0,91.4],"nice":false}}}},
{"data":{"name":"g3"},"transform":[{"filter":"datum.x<130"}],"mark":{"type":"line","color":"#00f21a","strokeWidth":10.5,"strokeDash":[28,28]},"encoding":{"x":{"field":"x","type":"quantitative","scale":{"domain":[0,305],"nice":false}},"y":{"field":"y","type":"quantitative","scale":{"domain":[0,91.4],"nice":false}}}}
]},
{"width":133,"height":294,"layer":[
{"data":{"name":"bar"},"mark":{"type":"rect","height":5},"encoding":{"x":{"datum":14.5,"type":"quantitative","scale":{"domain":[29,162],"nice":false},"axis":null},"x2":{"datum":53.5},"y":{"field":"v","type":"quantitative","scale":{"domain":[-25.8,125],"nice":false},"axis":{"orient":"right","offset":-108,"values":[0,20,40,60,80,100],"domain":false,"tickSize":16,"labelFontSize":21,"labelPadding":9,"title":"# spikes of neuron 4","titleFontSize":20.5,"titleAngle":90,"titleX":83,"titleY":145,"titleAlign":"center","titleBaseline":"middle"}},"color":{"field":"v","type":"quantitative","legend":null,"scale":{"domain":[0,100],"range":["#000000","#8b5737","#ffa468","#ffc680","#ffffff"],"interpolate":"rgb"}}}},
{"data":{"values":[{"k":"outline"}]},"mark":{"type":"rect","filled":false,"stroke":"black","strokeWidth":3,"cornerRadius":2},"encoding":{"x":{"datum":14.5,"type":"quantitative","scale":{"domain":[29,162],"nice":false}},"x2":{"datum":53.5},"y":{"datum":-1.7,"type":"quantitative","scale":{"domain":[-25.8,125],"nice":false}},"y2":{"datum":100.9}}},
{"data":{"values":[{"k":"box"}]},"mark":{"type":"rect","filled":false,"stroke":"black","strokeWidth":2},"encoding":{"x":{"datum":0,"type":"quantitative","scale":{"domain":[29,162],"nice":false}},"x2":{"datum":162},"y":{"datum":-17.1,"type":"quantitative","scale":{"domain":[-25.8,125],"nice":false}},"y2":{"datum":117.3}}}
]}
]}
